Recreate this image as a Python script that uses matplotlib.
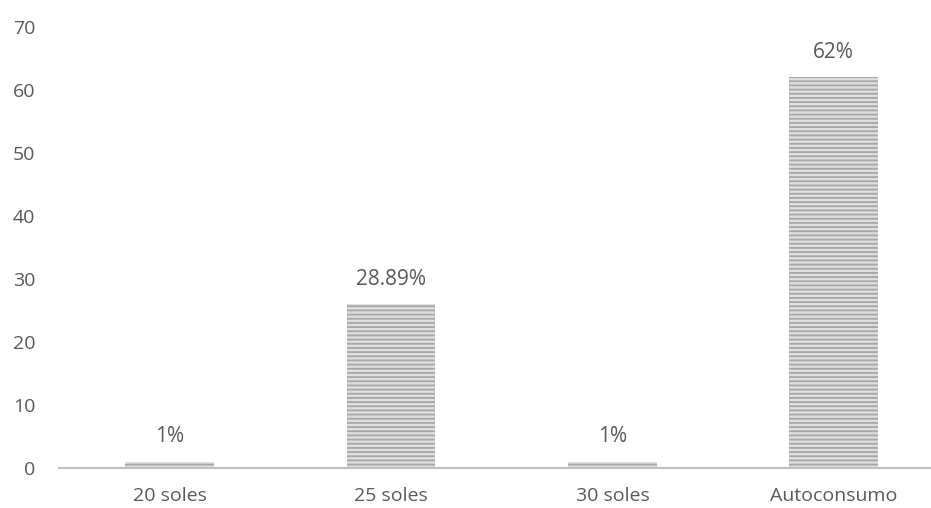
import matplotlib
matplotlib.use("Agg")
import matplotlib.pyplot as plt

plt.rcParams["font.family"] = ["Open Sans", "DejaVu Sans"]
plt.rcParams["hatch.linewidth"] = 1.3

categories = ["20 soles", "25 soles", "30 soles", "Autoconsumo"]
values = [1, 26, 1, 62]
labels = ["1%", "28.89%", "1%", "62%"]

TXT = "#595959"
fig = plt.figure(figsize=(9.31, 5.08), dpi=100)
# axes runs past the right edge, like the source chart
ax = fig.add_axes([0.0634, 0.079, 0.951, 0.868])
x = range(len(categories))
bars = ax.bar(x, values, width=0.4, color="#dedede", edgecolor="#a6a6a6",
              hatch="----", linewidth=0)
for b, lab in zip(bars, labels):
    ax.annotate(lab, (b.get_x() + b.get_width() / 2, b.get_height()),
                xytext=(0, 18), textcoords="offset points",
                ha="center", va="center", fontsize=15, color=TXT)
ax.set_xlim(-0.5, 3.5)
ax.set_ylim(0, 70)
ax.set_yticks(range(0, 71, 10))
ax.set_xticks(list(x))
ax.set_xticklabels(categories)
for s in ("top", "right", "left"):
    ax.spines[s].set_visible(False)
ax.spines["bottom"].set_color("#c0c0c0")
ax.spines["bottom"].set_linewidth(1.5)
ax.tick_params(axis="both", length=0, labelsize=14, colors=TXT)
ax.tick_params(axis="y", pad=17)
ax.tick_params(axis="x", pad=14)
fig.savefig("out.png", facecolor="white")
